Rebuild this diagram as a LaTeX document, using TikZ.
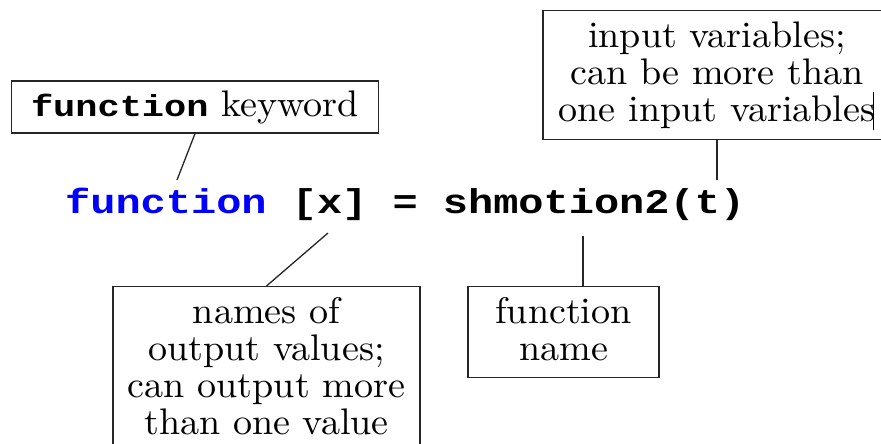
\documentclass[tikz,border=0pt]{standalone}
\usepackage{fontspec}
\setmainfont{lmroman10-regular}[Extension=.otf, FakeStretch=1.03]
\newfontfamily\codefont[FakeStretch=1.22]{Liberation Mono}
\begin{document}
\begin{tikzpicture}[x=1pt,y=-1pt,
  box/.style={draw=black!85, line width=1.3pt, inner xsep=0pt, inner ysep=11pt, align=center, font=\fontsize{37}{37}\selectfont},
  link/.style={draw=black!85, line width=1.3pt}]
\useasboundingbox (0,0) rectangle (881,444);
\clip (0,0) rectangle (881,444);
\node[box, minimum width=367pt, minimum height=52pt, inner ysep=0pt] (kw) at (195,107) {{\codefont\bfseries\fontsize{30.3}{30}\selectfont function} keyword};
\node[anchor=base west, inner sep=0pt, font=\codefont\bfseries\fontsize{34.4}{34}\selectfont] (code) at (65,213) {\textcolor{blue}{function} [x] = shmotion2(t)};
\node[box, anchor=north, minimum width=348pt] (inp) at (717,10) {input variables;\\can be more than\\one input variables};
\node[box, anchor=north, minimum width=307pt, text depth=40pt] (outp) at (266.5,286) {names of\\output values;\\can output more\\than one value};
\node[box, anchor=north, minimum width=191pt, text depth=6pt] (fname) at (563.5,286) {function\\name};
\coordinate (kwend) at (177,180);
\coordinate (xend) at (328,233);
\coordinate (fnend) at (583,236);
\coordinate (inend) at (717,180);
\draw[link] (kw.south) -- (kwend);
\draw[link] (outp.north) -- (xend);
\draw[link] (fname.north -| fnend) -- (fnend);
\draw[link] (inp.south) -- (inend);
\draw[line width=1pt] (873,92) -- (873,130);
\end{tikzpicture}
\end{document}
